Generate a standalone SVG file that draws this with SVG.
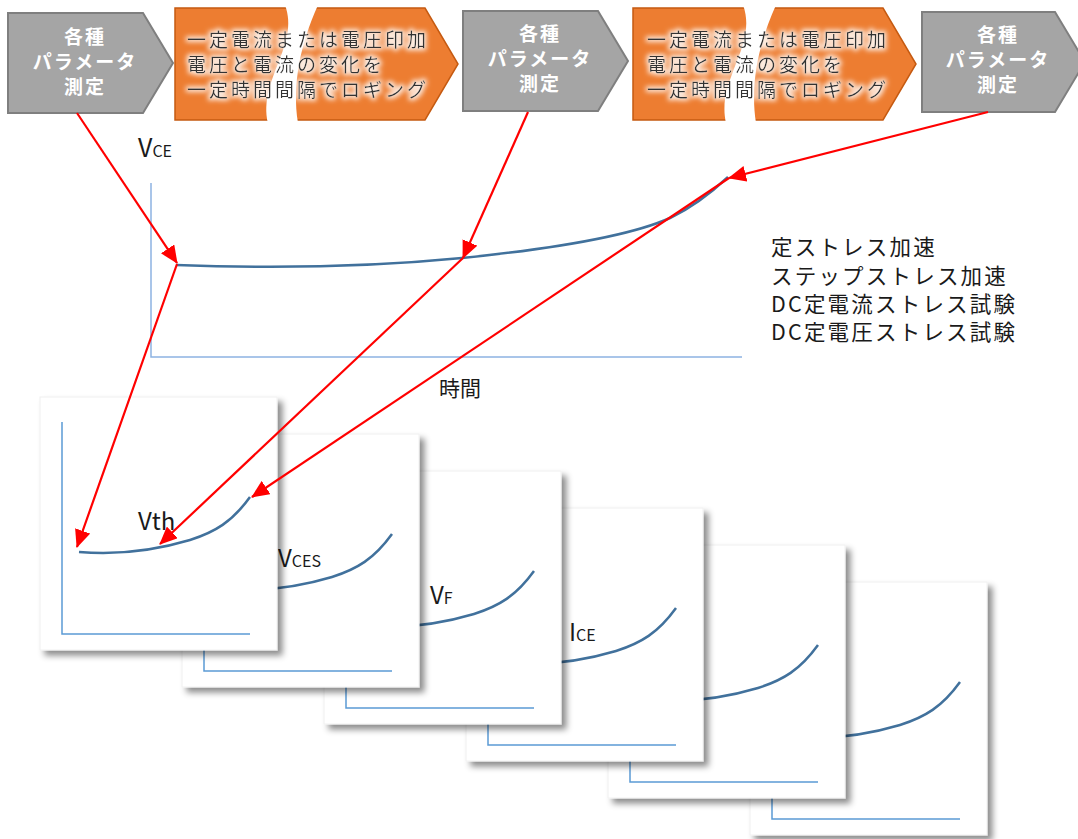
<svg xmlns="http://www.w3.org/2000/svg" xmlns:xlink="http://www.w3.org/1999/xlink" width="1078" height="839" viewBox="0 0 1078 839">
<style>
.gray{fill:#a5a5a5;stroke:#7f7f7f;stroke-width:2}
.orange{fill:#ed7d31;stroke:#c55a11;stroke-width:1.5}
.gtxt{font-family:"Noto Sans CJK JP","Noto Sans",sans-serif;font-size:19px;font-weight:bold;fill:#ffffff;text-anchor:middle;letter-spacing:2px}
.otxt{font-family:"Noto Sans CJK JP","Noto Sans",sans-serif;font-size:19px;fill:#333333;letter-spacing:3px}
.txt{font-family:"Noto Sans CJK JP","Noto Sans",sans-serif;fill:#1a1a1a}
.lst{font-family:"Noto Sans CJK JP","Noto Sans",sans-serif;fill:#1a1a1a;font-size:21.5px;letter-spacing:2.2px}
.axis{fill:none;stroke:#8db3e2;stroke-width:1.5}
.caxis{fill:none;stroke:#5b9bd5;stroke-width:1.5}
.curve{fill:none;stroke:#41719c;stroke-width:2.5}
.card{fill:#ffffff;stroke:#f0f0f0;stroke-width:1}
.arrow{fill:none;stroke:#ff0000;stroke-width:2.2;marker-end:url(#ah)}
</style>
<defs>
<marker id="ah" markerUnits="userSpaceOnUse" markerWidth="18" markerHeight="16" viewBox="0 0 18 16" refX="17" refY="8" orient="auto">
<path d="M0,0 L18,8 L0,16 Z" fill="#ff0000"/>
</marker>
<filter id="glow" x="-10%" y="-40%" width="120%" height="180%">
<feMorphology in="SourceAlpha" operator="dilate" radius="1.5" result="d"/>
<feGaussianBlur in="d" stdDeviation="2.5" result="b"/>
<feFlood flood-color="#ffffff" flood-opacity="0.85"/>
<feComposite in2="b" operator="in" result="g"/>
<feMerge><feMergeNode in="g"/><feMergeNode in="SourceGraphic"/></feMerge>
</filter>
<filter id="shadow" x="-10%" y="-10%" width="125%" height="125%">
<feDropShadow dx="5" dy="5" stdDeviation="3" flood-color="#000000" flood-opacity="0.45"/>
</filter>
<g id="cardBase">
<rect class="card" x="40" y="397" width="237" height="253" filter="url(#shadow)"/>
<polyline class="caxis" points="62,422 62,634 250,634"/>
<path class="curve" d="M79,552 C115,555 150,552 190,540 C215,532 232,522 250,497"/>
</g>
</defs>

<g id="measure1">
<path class="gray" d="M8,13 H143 L173,63 L143,113 H8 Z"/>
<text class="gtxt" x="85" y="44">各種</text>
<text class="gtxt" x="85" y="69">パラメータ</text>
<text class="gtxt" x="85" y="94">測定</text>
</g>
<g id="stress1">
<path class="orange" d="M175,8 H425 L458,64 L425,120 H175 Z"/>
<path d="M285,5 C300,45 258,80 268,123 L298,123 C292,85 300,45 318,5 Z" fill="#ffffff"/>
<g filter="url(#glow)">
<text class="otxt" x="187" y="47">一定電流または電圧印加</text>
<text class="otxt" x="187" y="72">電圧と電流の変化を</text>
<text class="otxt" x="187" y="97">一定時間間隔でロギング</text>
</g>
</g>
<g id="measure2">
<path class="gray" d="M463,11 H598 L628,61 L598,111 H463 Z"/>
<text class="gtxt" x="540" y="41">各種</text>
<text class="gtxt" x="540" y="66">パラメータ</text>
<text class="gtxt" x="540" y="91">測定</text>
</g>
<g id="stress2">
<path class="orange" d="M633,8 H883 L916,64 L883,120 H633 Z"/>
<path d="M743,5 C758,45 716,80 726,123 L756,123 C750,85 758,45 776,5 Z" fill="#ffffff"/>
<g filter="url(#glow)">
<text class="otxt" x="647" y="47">一定電流または電圧印加</text>
<text class="otxt" x="647" y="72">電圧と電流の変化を</text>
<text class="otxt" x="647" y="97">一定時間間隔でロギング</text>
</g>
</g>
<g id="measure3">
<path class="gray" d="M922,12 H1055 L1085,62 L1055,112 H922 Z"/>
<text class="gtxt" x="998" y="42">各種</text>
<text class="gtxt" x="998" y="67">パラメータ</text>
<text class="gtxt" x="998" y="92">測定</text>
</g>

<g id="mainChart">
<text class="txt" x="138" y="157" font-size="25">V<tspan font-size="16">CE</tspan></text>
<polyline class="axis" points="151,183 151,357 742,357"/>
<path class="curve" d="M176,265 C280,269 380,266 462,258 C560,248 630,236 670,218 C695,206 712,192 728,177"/>
<text class="txt" x="439" y="396" font-size="21">時間</text>
</g>

<g id="methods">
<text class="lst" x="771" y="255">定ストレス加速</text>
<text class="lst" x="771" y="284">ステップストレス加速</text>
<text class="lst" x="771" y="312">DC定電流ストレス試験</text>
<text class="lst" x="771" y="340">DC定電圧ストレス試験</text>
</g>

<g id="card6"><use xlink:href="#cardBase" transform="translate(710,185)"/></g>
<g id="card5"><use xlink:href="#cardBase" transform="translate(568,148)"/></g>
<g id="card4"><use xlink:href="#cardBase" transform="translate(426,111)"/>
<text class="txt" x="569" y="641" font-size="24">I<tspan font-size="16">CE</tspan></text></g>
<g id="card3"><use xlink:href="#cardBase" transform="translate(284,74)"/>
<text class="txt" x="430" y="604" font-size="24">V<tspan font-size="16">F</tspan></text></g>
<g id="card2"><use xlink:href="#cardBase" transform="translate(142,37)"/>
<text class="txt" x="278" y="567" font-size="24">V<tspan font-size="16">CES</tspan></text></g>
<g id="card1"><use xlink:href="#cardBase"/>
<text class="txt" x="138" y="530" font-size="24">Vth</text></g>

<g id="connectors">
<line class="arrow" x1="77" y1="113" x2="177" y2="263"/>
<line class="arrow" x1="528" y1="112" x2="463" y2="258"/>
<line class="arrow" x1="988" y1="112" x2="729" y2="178"/>
<line class="arrow" x1="177" y1="264" x2="77" y2="547"/>
<line class="arrow" x1="463" y1="258" x2="160" y2="544"/>
<line class="arrow" x1="729" y1="178" x2="252" y2="497"/>
</g>
</svg>
